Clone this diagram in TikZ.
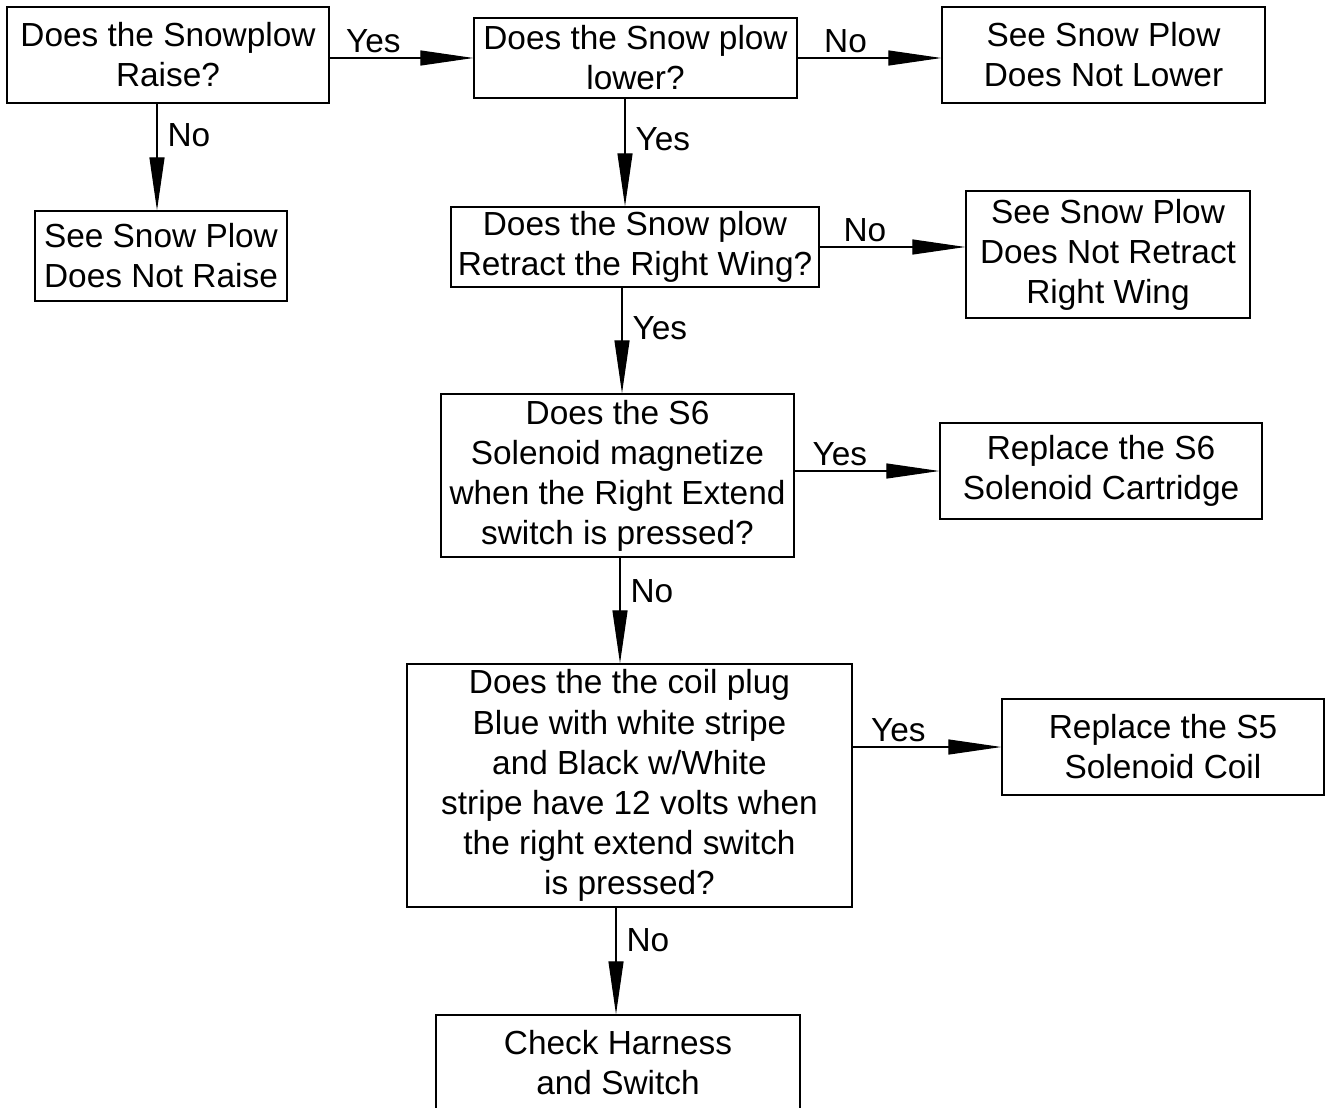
\documentclass[tikz,border=0pt]{standalone}
\usepackage{fontspec}
\setmainfont{Liberation Sans}
\usetikzlibrary{positioning, arrows.meta, calc}

\begin{document}
\begin{tikzpicture}[
    x=0.02cm, y=-0.02cm,
    box/.style={draw, line width=0.8pt, align=center, inner sep=2pt, font=\fontsize{19}{22.8}\selectfont},
    arrow/.style={-{Triangle[length=1.06cm, width=0.3cm]}, line width=0.7pt},
    hlabel/.style={anchor=south west, inner sep=0pt, yshift=0.1cm, font=\fontsize{19}{22.8}\selectfont},
    vlabel/.style={anchor=west, inner sep=0pt, xshift=0.2cm, font=\fontsize{19}{22.8}\selectfont}
]
\useasboundingbox (0,0) rectangle (1331,1108);
\clip (0,0) rectangle (1331,1108);

% Questions
\node[box, minimum width=6.44cm, minimum height=1.92cm] (raise) at (168,55) {Does the Snowplow\\Raise?};
\node[box, minimum width=6.46cm, minimum height=1.6cm] (lower) at (635.5,58) {Does the Snow plow\\lower?};
\node[box, minimum width=7.36cm, minimum height=1.6cm] (retract) at (635,247) {Does the Snow plow\\Retract the Right Wing?};
\node[box, minimum width=7.06cm, minimum height=3.26cm] (magnet) at (617.5,475.5) {Does the S6\\Solenoid magnetize\\when the Right Extend\\switch is pressed?};
\node[box, minimum width=8.9cm, minimum height=4.86cm] (volts) at (629.5,785.5) {Does the the coil plug\\Blue with white stripe\\and Black w/White\\stripe have 12 volts when\\the right extend switch\\is pressed?};

% Results
\node[box, minimum width=5.04cm, minimum height=1.8cm] (noraise) at (161,256) {See Snow Plow\\Does Not Raise};
\node[box, minimum width=6.46cm, minimum height=1.92cm] (nolower) at (1103.5,55) {See Snow Plow\\Does Not Lower};
\node[box, minimum width=5.68cm, minimum height=2.54cm] (noretract) at (1108,254.5) {See Snow Plow\\Does Not Retract\\Right Wing};
\node[box, minimum width=6.44cm, minimum height=1.92cm] (cartridge) at (1101,471) {Replace the S6\\Solenoid Cartridge};
\node[box, minimum width=6.44cm, minimum height=1.92cm] (coil) at (1163,747) {Replace the S5\\Solenoid Coil};
\node[box, minimum width=7.28cm, minimum height=1.92cm] (harness) at (618,1063) {Check Harness\\and Switch};

% Connections
\draw[arrow] (raise.east |- lower.west) -- node[hlabel, pos=0.11] {Yes} (lower.west);
\draw[arrow] ($(raise.south -| noraise.north)+(-4,0)$) -- node[vlabel, pos=0.3] {No} ($(noraise.north)+(-4,0)$);
\draw[arrow] (lower.east) -- node[hlabel, pos=0.18] {No} (nolower.west |- lower.east);
\draw[arrow] ($(lower.south -| retract.north)+(-10,0)$) -- node[vlabel, pos=0.38] {Yes} ($(retract.north)+(-10,0)$);
\draw[arrow] (retract.east) -- node[hlabel, pos=0.16] {No} (noretract.west |- retract.east);
\draw[arrow] ($(retract.south -| magnet.north)+(4.5,0)$) -- node[vlabel, pos=0.38] {Yes} ($(magnet.north)+(4.5,0)$);
\draw[arrow] (magnet.east |- cartridge.west) -- node[hlabel, pos=0.12] {Yes} (cartridge.west);
\draw[arrow] ($(magnet.south -| volts.north)+(-9.5,0)$) -- node[vlabel, pos=0.32] {No} ($(volts.north)+(-9.5,0)$);
\draw[arrow] (volts.east |- coil.west) -- node[hlabel, pos=0.12] {Yes} (coil.west);
\draw[arrow] ($(volts.south -| harness.north)+(-2,0)$) -- node[vlabel, pos=0.3] {No} ($(harness.north)+(-2,0)$);

\end{tikzpicture}
\end{document}
